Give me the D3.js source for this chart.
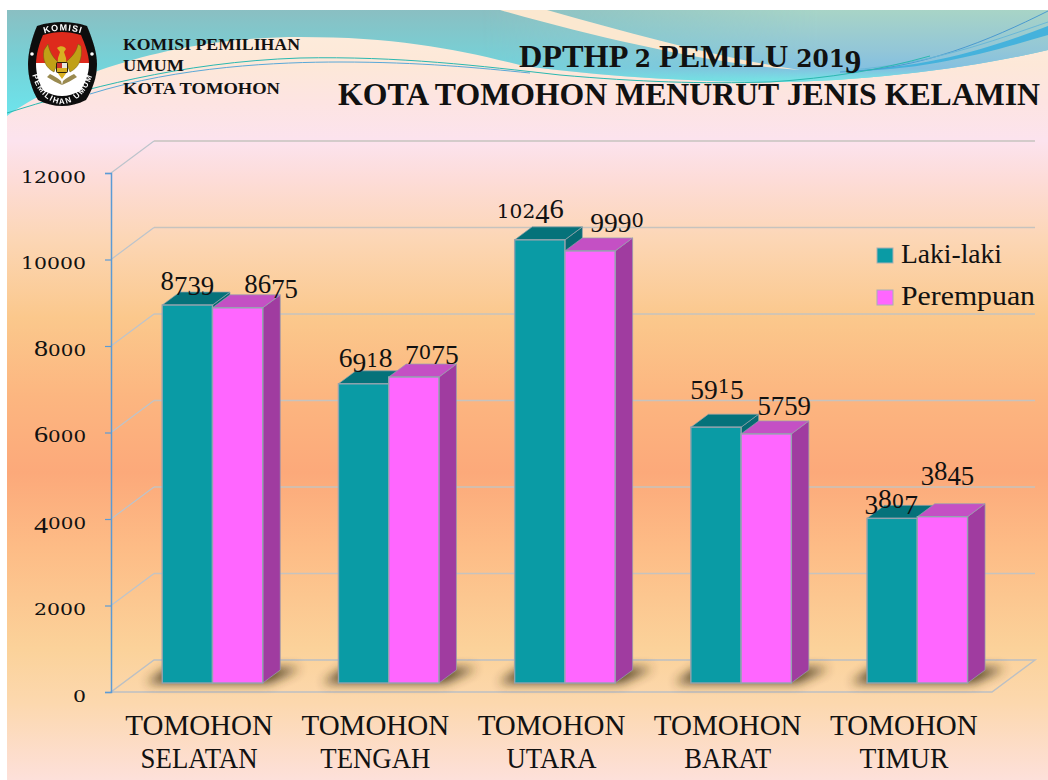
<!DOCTYPE html>
<html>
<head>
<meta charset="utf-8">
<script src="https://cdn.jsdelivr.net/npm/d3@7"></script>
<style>
html, body { margin: 0; padding: 0; background: #fff; overflow: hidden; }
svg { display: block; }
text { font-family: "Liberation Serif", serif; fill: #111; }
</style>
</head>
<body>
<svg id="vis" width="1048" height="780"></svg>
<script>
var categories = [["TOMOHON", "SELATAN"], ["TOMOHON", "TENGAH"], ["TOMOHON", "UTARA"], ["TOMOHON", "BARAT"], ["TOMOHON", "TIMUR"]];
var seriesNames = ["Laki-laki", "Perempuan"];
var lakiLaki = [8739, 6918, 10246, 5915, 3807];
var perempuan = [8675, 7075, 9990, 5759, 3845];
var yTicks = [0, 2000, 4000, 6000, 8000, 10000, 12000];
var orgLines = ["KOMISI PEMILIHAN", "UMUM", "KOTA TOMOHON"];
var titleLines = ["DPTHP 2 PEMILU 2019", "KOTA TOMOHON MENURUT JENIS KELAMIN"];

var width = 1048, height = 780;
var wall = {dx: 43, dy: -32};      // back wall offset from the front of the floor
var depth = {dx: 17.5, dy: -13};   // depth of a bar
var inset = {dx: 13.4, dy: -9};    // bars stand a little way into the floor
var groupWidth = 100.5;

// hand placed in the original slide, so nudged one by one from the bar top
var labelNudge = [
    [[0, -15], [2, -17], [-9.5, -22], [1, -34], [-1, -10]],
    [[33.5, -15], [18, -18], [27, -24], [18, -24], [5, -37]]
];
var secondLineWidth = [117, 110, 90, 87, 89];

var svg = d3.select("#vis");
var defs = svg.append("defs");

function vGradient(id, y1, y2, stops) {
    var g = defs.append("linearGradient").attr("id", id)
        .attr("gradientUnits", "userSpaceOnUse")
        .attr("x1", 0).attr("x2", 0).attr("y1", y1).attr("y2", y2);
    stops.forEach(function(s) {
        g.append("stop").attr("offset", s[0]).attr("stop-color", s[1]);
    });
}

vGradient("bg", 10, 780, [
    [0, "#fdeedd"], [0.07, "#fde8d8"], [0.12, "#fde4e2"], [0.17, "#fce3ee"], [0.22, "#fddcd8"],
    [0.30, "#fcd6b4"], [0.40, "#fbc88c"], [0.50, "#fcb680"], [0.60, "#fca97a"], [0.70, "#fdbc86"],
    [0.83, "#fbd29a"], [0.90, "#fcd8ae"], [1, "#fde0da"]
]);
vGradient("teal", 10, 115, [[0, "#8abfc2"], [0.5, "#75d2d8"], [1, "#6de4ec"]]);
vGradient("tealDown", 10, 85, [[0, "#a8d4c6"], [0.55, "#92c6d8"], [0.78, "#84c0e0"], [0.92, "#78e0e4"], [1, "#78e0e4"]]);

var fade = defs.append("linearGradient").attr("id", "fadeRight")
    .attr("gradientUnits", "userSpaceOnUse")
    .attr("x1", 480).attr("x2", 820).attr("y1", 0).attr("y2", 0);
fade.append("stop").attr("offset", 0).attr("stop-color", "#fff").attr("stop-opacity", 0);
fade.append("stop").attr("offset", 1).attr("stop-color", "#fff").attr("stop-opacity", 1);
defs.append("mask").attr("id", "rightMask").attr("maskUnits", "userSpaceOnUse")
    .attr("x", 0).attr("y", 0).attr("width", width).attr("height", 200)
    .append("rect").attr("width", width).attr("height", 200).attr("fill", "url(#fadeRight)");

defs.append("filter").attr("id", "shadowBlur")
    .attr("x", "-30%").attr("y", "-80%").attr("width", "160%").attr("height", "260%")
    .append("feGaussianBlur").attr("stdDeviation", 5.5);
defs.append("filter").attr("id", "soft")
    .append("feGaussianBlur").attr("stdDeviation", 0.35);

// slide background
var bg = svg.append("g");
bg.append("rect").attr("x", 7).attr("y", 10).attr("width", width - 7).attr("height", height - 10).attr("fill", "url(#bg)");

var waveEdge = "M7,116 C60,78 170,37 300,37 C400,37 460,50 524,66 C600,76 690,82 770,82 C870,82 980,66 1048,50 L1048,10 L7,10 Z";
bg.append("path").attr("d", waveEdge).attr("fill", "url(#teal)");
bg.append("path").attr("d", waveEdge).attr("fill", "url(#tealDown)").attr("mask", "url(#rightMask)");
bg.append("path").attr("d", "M500,10 L547,10 C640,36 720,58 800,70 C710,64 600,38 500,10 Z").attr("fill", "#fbe8d0");
bg.append("path").attr("d", "M1048,26 C990,48 930,68 840,71 C920,72 990,52 1048,35 Z").attr("fill", "#45b2dc");
bg.append("path").attr("d", "M840,72 C920,70 990,40 1048,11").attr("fill", "none").attr("stroke", "#4a9ad0").attr("stroke-width", 1);
bg.append("path").attr("d", "M850,70 C930,64 990,42 1048,22").attr("fill", "none").attr("stroke", "#6ab8d8").attr("stroke-width", 1);
bg.append("path").attr("d", "M7,113 C80,90 180,62 300,58 C400,56 480,66 560,75 C640,82 700,84 770,82 C830,78 880,70 930,56").attr("fill", "none").attr("stroke", "#2ab8b0").attr("stroke-width", 1);
bg.append("path").attr("d", "M90,94 C180,66 280,62 340,62 C420,62 480,68 530,73").attr("fill", "none").attr("stroke", "#5aa8d8").attr("stroke-width", 1);

// logo
var logo = svg.append("g").attr("filter", "url(#soft)");
var shield = "M37,26 C46,23 54,22 62,22 C70,22 78,23 87,26 C92,38 97,52 97,64 C97,78 92,90 86,100 C78,104 70,106 62,106 C54,106 46,104 38,100 C32,90 28,78 28,64 C28,52 32,38 37,26 Z";
var inner = "M43,35 C50,33 56,32 62,32 C68,32 74,33 81,35 C85,44 89,55 89,64 C89,74 85,84 80,91 C74,94 68,96 62,96 C56,96 50,94 44,91 C39,84 36,74 36,64 C36,55 39,44 43,35 Z";
logo.append("path").attr("d", shield).attr("fill", "#0c0c0c");
defs.append("clipPath").attr("id", "logoClip").append("path").attr("d", inner);
var logoInner = logo.append("g").attr("clip-path", "url(#logoClip)");
logoInner.append("rect").attr("x", 30).attr("y", 28).attr("width", 64).attr("height", 35).attr("fill", "#de2a1c");
logoInner.append("rect").attr("x", 30).attr("y", 63).attr("width", 64).attr("height", 36).attr("fill", "#fff");
[[32, 54], [92, 54]].forEach(function(p) {
    logo.append("circle").attr("cx", p[0]).attr("cy", p[1]).attr("r", 1.8).attr("fill", "#fff");
});
var gold = "#c0a015";
logo.append("path").attr("d", "M44,50 C42,60 46,68 54,72 L58,62 C54,58 50,54 48,44 Z").attr("fill", gold).attr("stroke", "#6a5a10").attr("stroke-width", 0.5);
logo.append("path").attr("d", "M81,46 C83,60 78,68 70,72 L66,62 C70,58 76,54 78,44 Z").attr("fill", gold).attr("stroke", "#6a5a10").attr("stroke-width", 0.5);
logo.append("path").attr("d", "M57,48 C60,45 65,46 66,49 L64,52 L66,58 L67,72 L62,79 L57,72 L58,58 L60,52 Z").attr("fill", "#d8b020");
logo.append("path").attr("d", "M50,74 C54,76 58,78 61,81 L62,85 C57,83 52,80 47,77 Z M74,74 C70,76 66,78 63,81 L62,85 C67,83 72,80 77,77 Z").attr("fill", "#9a8a50");
logo.append("rect").attr("x", 56).attr("y", 62).attr("width", 12).attr("height", 11).attr("rx", 2).attr("fill", "#2a2010");
logo.append("rect").attr("x", 57).attr("y", 63).attr("width", 5).attr("height", 5).attr("fill", "#c8302a");
logo.append("rect").attr("x", 62).attr("y", 63).attr("width", 5).attr("height", 5).attr("fill", "#e8e8e0");
logo.append("rect").attr("x", 57).attr("y", 68).attr("width", 10).attr("height", 4).attr("fill", "#d8b020");

defs.append("path").attr("id", "logoTop").attr("d", "M36,37 Q62,24 90,37");
defs.append("path").attr("id", "logoBottom").attr("d", "M31,68 C33,86 44,103 62,104 C80,103 91,86 94,68");
logo.append("text").style("font-family", "'Liberation Sans', sans-serif").style("font-weight", "bold").style("font-size", "9px").style("letter-spacing", "1px").style("fill", "#fff")
    .append("textPath").attr("href", "#logoTop").attr("startOffset", "50%").attr("text-anchor", "middle").text("KOMISI");
logo.append("text").style("font-family", "'Liberation Sans', sans-serif").style("font-weight", "bold").style("font-size", "8px").style("letter-spacing", "1.3px").style("fill", "#fff")
    .append("textPath").attr("href", "#logoBottom").attr("startOffset", "50%").attr("text-anchor", "middle").text("PEMILIHAN UMUM");

// the slide font has old style figures, none of the installed fonts do
function oldStyle(el, str, size) {
    el.text(null);
    var offset = 0;
    String(str).split("").forEach(function(ch) {
        var low = "012".indexOf(ch) >= 0, drop = "34579".indexOf(ch) >= 0, digit = /[0-9]/.test(ch);
        var target = drop ? size * 0.2 : 0;
        var span = el.append("tspan").text(ch).attr("dy", target - offset);
        offset = target;
        if (low) {
            span.style("font-family", "'DejaVu Serif', serif").style("font-size", (size * 0.72) + "px");
        } else if (digit) {
            span.style("font-family", "'Liberation Serif', serif").style("font-size", (size * 1.02) + "px");
        }
    });
}

// header text
orgLines.forEach(function(line, i) {
    svg.append("text").attr("x", 123).attr("y", [50, 71, 94][i])
        .style("font-size", "17px").style("font-weight", "bold")
        .attr("textLength", [177, 61, 157][i]).attr("lengthAdjust", "spacingAndGlyphs")
        .text(line);
});

var titleSize = 32.3;
var title = svg.append("text").attr("x", 519).attr("y", 67)
    .style("font-size", titleSize + "px").style("font-weight", "bold");
title.append("tspan").text("DPTHP ");
oldStyle(title.append("tspan"), "2", titleSize);
title.append("tspan").attr("dy", 0).text(" PEMILU ");
oldStyle(title.append("tspan"), "2019", titleSize);

svg.append("text").attr("x", 338).attr("y", 105)
    .style("font-size", "32px").style("font-weight", "bold")
    .attr("textLength", 702).attr("lengthAdjust", "spacingAndGlyphs")
    .text(titleLines[1]);

// scales
var y = d3.scaleLinear().domain([0, 12000]).range([692, 173]);
var x = d3.scaleBand().domain(d3.range(categories.length)).range([111, 992]);
var xInner = d3.scaleBand().domain(d3.range(seriesNames.length)).range([0, groupWidth]);

var gridColor = "#c6c3be";

// back wall and side wall
yTicks.slice(1).forEach(function(t) {
    svg.append("line")
        .attr("x1", 111 + wall.dx).attr("x2", x.range()[1] + wall.dx)
        .attr("y1", y(t) + wall.dy).attr("y2", y(t) + wall.dy)
        .attr("stroke", gridColor).attr("stroke-width", 1.5);
    svg.append("line")
        .attr("x1", 111).attr("x2", 111 + wall.dx)
        .attr("y1", y(t)).attr("y2", y(t) + wall.dy)
        .attr("stroke", "#bcc4cc").attr("stroke-width", 1.2);
});

// floor
svg.append("polygon")
    .attr("points", [
        [111, y(0)], [x.range()[1], y(0)],
        [x.range()[1] + wall.dx, y(0) + wall.dy], [111 + wall.dx, y(0) + wall.dy]
    ].join(" "))
    .attr("fill", "none").attr("stroke", "#bcc0c4").attr("stroke-width", 1.5);

function barLeft(i, s) {
    return x(i) + (x.bandwidth() - groupWidth) / 2 + inset.dx + xInner(s);
}
var barBase = y(0) + inset.dy;

// shadows on the floor
categories.forEach(function(c, i) {
    var x0 = barLeft(i, 0), x1 = x0 + groupWidth;
    svg.append("polygon")
        .attr("points", [[x0 - 16, barBase], [x1 + 6, barBase], [x1 + 38, barBase - 15], [x0 + 6, barBase - 15]].join(" "))
        .attr("fill", "#3e3018").attr("opacity", 0.9).attr("filter", "url(#shadowBlur)");
});

// bars
var barStyle = [
    {front: "#0a9ba5", top: "#05727a", side: "#066a72"},
    {front: "#ff66ff", top: "#c450c4", side: "#a03ca0"}
];
var edge = "#93a3ae";

[lakiLaki, perempuan].forEach(function(values, s) {
    var g = svg.append("g");
    g.selectAll("g").data(values).enter().append("g").each(function(d, i) {
        var b = d3.select(this);
        var l = barLeft(i, s), w = xInner.bandwidth(), r = l + w, t = barBase - (y(0) - y(d));
        b.append("polygon")
            .attr("points", [[r, barBase], [r + depth.dx, barBase + depth.dy], [r + depth.dx, t + depth.dy], [r, t]].join(" "))
            .attr("fill", barStyle[s].side).attr("stroke", edge).attr("stroke-width", 0.7);
        b.append("polygon")
            .attr("points", [[l, t], [r, t], [r + depth.dx, t + depth.dy], [l + depth.dx, t + depth.dy]].join(" "))
            .attr("fill", barStyle[s].top).attr("stroke", edge).attr("stroke-width", 0.7);
        b.append("rect").attr("x", l).attr("y", t).attr("width", w).attr("height", barBase - t)
            .attr("fill", barStyle[s].front).attr("stroke", edge).attr("stroke-width", 1.4);
    });
});

// axes
var yAxis = d3.axisLeft(y).tickValues(yTicks).tickSize(6).tickSizeOuter(6).tickPadding(19).tickFormat(d3.format("d"));
var yG = svg.append("g").attr("transform", "translate(111,0)").call(yAxis);
yG.select(".domain").attr("stroke", "#5b9bd5").attr("stroke-width", 1.5);
yG.selectAll(".tick line").attr("stroke", "#5b9bd5").attr("stroke-width", 1.2);
yG.selectAll(".tick text").attr("dy", null).attr("y", 9).style("font-size", "23px")
    .each(function(d) {
        var t = d3.select(this);
        oldStyle(t, d, 23);
        t.attr("textLength", String(d).length * 13).attr("lengthAdjust", "spacingAndGlyphs");
    });

var xAxis = d3.axisBottom(x).tickSize(0).tickFormat(function() { return ""; });
var xG = svg.append("g").attr("transform", "translate(0," + y(0) + ")").call(xAxis);
xG.select(".domain").remove();
xG.selectAll(".tick text").each(function(i) {
    var t = d3.select(this).attr("y", 0).attr("dy", null).style("font-size", "29px");
    categories[i].forEach(function(line, k) {
        var span = t.append("tspan").attr("x", 0).attr("y", k == 0 ? 43 : 76).text(line);
        if (k == 1) span.attr("textLength", secondLineWidth[i]).attr("lengthAdjust", "spacingAndGlyphs");
    });
});

// value labels
[lakiLaki, perempuan].forEach(function(values, s) {
    svg.append("g").selectAll("text").data(values).enter().append("text")
        .attr("x", function(d, i) { return barLeft(i, s) + xInner.bandwidth() / 2 + labelNudge[s][i][0]; })
        .attr("y", function(d, i) { return barBase - (y(0) - y(d)) + labelNudge[s][i][1]; })
        .attr("text-anchor", "middle")
        .style("font-size", "27px")
        .each(function(d) {
            oldStyle(d3.select(this), d, 27);
            d3.select(this).attr("textLength", String(d).length * 13.4).attr("lengthAdjust", "spacingAndGlyphs");
        });
});

// legend
var legendColors = [barStyle[0].front, barStyle[1].front];
seriesNames.forEach(function(name, i) {
    var top = 248 + i * 42;
    svg.append("rect").attr("x", 877).attr("y", top).attr("width", 16).attr("height", 15)
        .attr("fill", legendColors[i]).attr("stroke", "#a8b0b4").attr("stroke-width", 1);
    svg.append("text").attr("x", 901).attr("y", top + 15)
        .style("font-size", "27px")
        .attr("textLength", [101, 134][i]).attr("lengthAdjust", "spacingAndGlyphs")
        .text(name);
});
</script>
</body>
</html>
